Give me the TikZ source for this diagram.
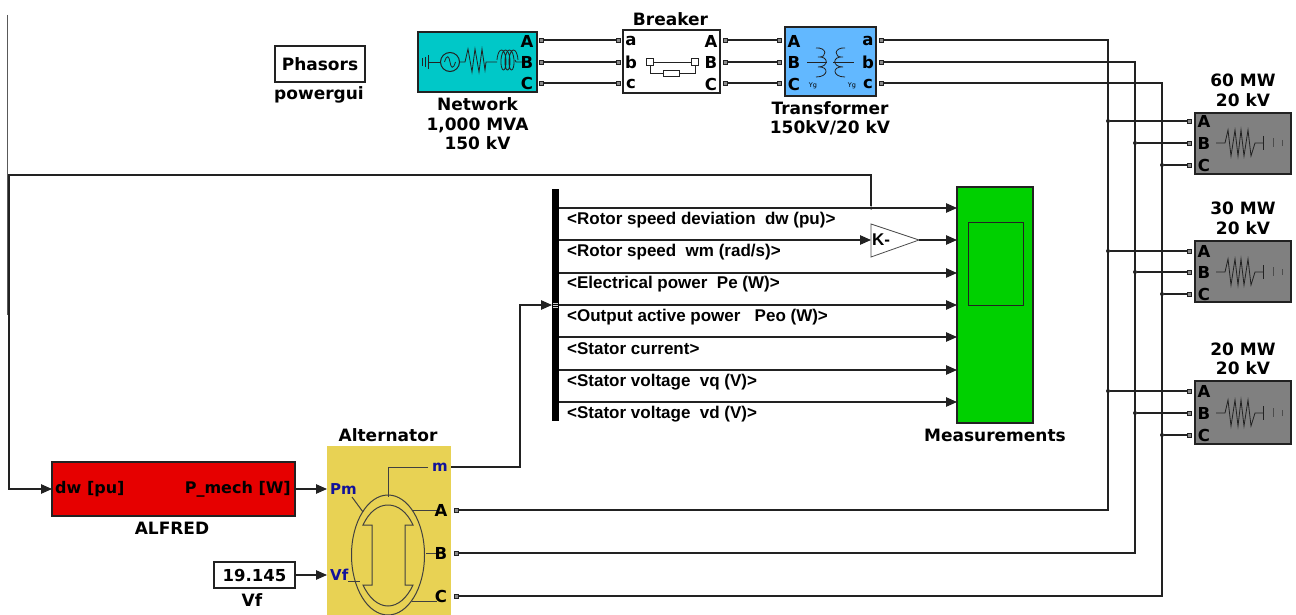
\documentclass[tikz,border=0pt]{standalone}
\usepackage{fontspec}
\setmainfont{DejaVu Sans}
\newfontfamily\sigfont{Liberation Sans}
\usetikzlibrary{arrows.meta}
\definecolor{wirec}{HTML}{222222}
\definecolor{netc}{HTML}{00C8C8}
\definecolor{trc}{HTML}{62B8FF}
\definecolor{loadc}{HTML}{808080}
\definecolor{redc}{HTML}{E60000}
\definecolor{greenc}{HTML}{00D000}
\definecolor{yelc}{HTML}{E8D254}
\definecolor{bluec}{HTML}{12129A}
\tikzset{
  wire/.style={draw=wirec,line width=1.1pt},
  sigwire/.style={wire,-{Triangle[length=11pt,width=9.5pt]}},
  block/.style={draw=wirec,line width=1.1pt,inner sep=0pt,outer sep=0pt},
  portsq/.style={draw=wirec,fill=black!45,line width=0.8pt,inner sep=0pt,outer sep=0pt,minimum size=4pt},
  jdot/.style={circle,fill=wirec,inner sep=0pt,minimum size=4pt},
  title/.style={font=\fontsize{17}{19.5}\selectfont\bfseries,align=center,inner sep=0pt,text=black},
  letter/.style={font=\fontsize{16.5}{19}\selectfont\bfseries,inner sep=0pt,text=black},
  bluelet/.style={font=\fontsize{15}{18}\selectfont\bfseries,inner sep=0pt,text=bluec},
  siglabel/.style={font=\fontsize{17}{20}\selectfont\sigfont\bfseries,anchor=west,inner sep=0pt,text=black},
  icon/.style={draw=wirec,line width=0.8pt},
  altline/.style={draw=black!75,line width=1pt},
  loadicon/.pic={
    \draw[icon] (0,0) -- (9,0) -- (12,-13) -- (15,13) -- (19,-13) -- (22,13) -- (25,-13) -- (28,13) -- (32,-13) -- (35,13) -- (39,0) -- (47,0);
    \draw[icon,line width=1pt] (47,-7) -- (47,7);
    \draw[icon,draw=black!70,line width=1pt] (57,-5) -- (57,4);
    \draw[icon,draw=black!70,line width=1pt] (66,-3) -- (66,3);
  }
}
\begin{document}
\begin{tikzpicture}[x=1pt,y=-1pt]
\useasboundingbox (0,0) rectangle (1296,615);

% stray line at the left
\coordinate (stTop) at (7,15);
\coordinate (stBot) at (7,315);
\draw[draw=black!65,line width=0.8pt] (stTop) -- (stBot);

% powergui
\node[block,fill=white,minimum width=90pt,minimum height=36pt,font=\fontsize{17}{19}\selectfont\bfseries] (pg) at (320,64) {Phasors};
\node[title] (pgL) at (319,95) {powergui};

% Network
\node[block,fill=netc,minimum width=119pt,minimum height=60pt] (net) at (477.5,62) {};
\draw[icon] (422,58) -- (422,66) (425,57) -- (425,67) (428,55) -- (428,69) (428,62) -- (440.5,62);
\draw[icon,line width=1pt] (450,62) circle (9.5);
\draw[icon] (444.5,62) .. controls (447,54) and (449,56) .. (450,62) .. controls (451,68) and (453,70) .. (455.5,62);
\draw[icon] (459.5,62) -- (465,62) -- (468,49) -- (472,72) -- (475,49) -- (479,72) -- (482,49) -- (485,70) -- (486,62) -- (497,62);
\draw[icon] plot[smooth,samples=70,domain=0:1260] ({500.5+\x/1260*14-3.5*cos(\x)},{60-10*sin(\x)});
\draw[icon] (515,60) -- (516,62) -- (522,62);
\node[title] (netL) at (477.5,124) {Network\\1,000 MVA\\150 kV};
\node[letter] (netLa) at (527,41) {A};
\node[letter] (netLb) at (527,62) {B};
\node[letter] (netLc) at (527,83) {C};
\node[portsq] (netA) at (541,40) {};
\node[portsq] (netB) at (541,62) {};
\node[portsq] (netC) at (541,83) {};

% Breaker
\node[block,fill=white,minimum width=97pt,minimum height=63pt] (brk) at (671.5,61.5) {};
\node[title] (brkL) at (670.5,19) {Breaker};
\node[letter] (bLa) at (631,41) {a};
\node[letter] (bLb) at (631,62) {b};
\node[letter] (bLc) at (631,84) {c};
\node[letter] (bLA) at (711,41) {A};
\node[letter] (bLB) at (711,62) {B};
\node[letter] (bLC) at (711,84) {C};
\node[portsq] (brka) at (618,40) {};
\node[portsq] (brkb) at (618,62) {};
\node[portsq] (brkc) at (618,83) {};
\node[portsq] (brkA) at (725,40) {};
\node[portsq] (brkB) at (725,62) {};
\node[portsq] (brkC) at (725,83) {};
\node[draw=wirec,line width=0.8pt,fill=white,minimum size=7pt,inner sep=0pt] (sw1) at (650,62) {};
\node[draw=wirec,line width=0.8pt,fill=white,minimum size=7pt,inner sep=0pt] (sw2) at (695,62) {};
\node[draw=wirec,line width=0.8pt,fill=white,minimum width=16pt,minimum height=6pt,inner sep=0pt] (sw3) at (671.5,73.5) {};
\draw[icon] (sw1) -- (sw2);
\draw[icon] (sw1.south) -- (sw1.south |- sw3) -- (sw3.west);
\draw[icon] (sw2.south) -- (sw2.south |- sw3) -- (sw3.east);

% Transformer
\node[block,fill=trc,minimum width=91pt,minimum height=69pt] (tr) at (830.5,61.5) {};
\node[title] (trL) at (830,118.5) {Transformer\\150kV/20 kV};
\node[letter] (tLA) at (794,41) {A};
\node[letter] (tLB) at (794,62) {B};
\node[letter] (tLC) at (794,84) {C};
\node[letter] (tLa) at (868,41) {a};
\node[letter] (tLb) at (868,62) {b};
\node[letter] (tLc) at (868,84) {c};
\node[font=\fontsize{6.5}{8}\selectfont,inner sep=0pt] (yg1) at (813,86) {Yg};
\node[font=\fontsize{6.5}{8}\selectfont,inner sep=0pt] (yg2) at (852,86) {Yg};
\draw[icon] (807,62) -- (827,62) (833,62) -- (854,62);
\draw[icon] (816,48) .. controls (827,47) and (828,58) .. (818,57) .. controls (829,56) and (829,67) .. (818,67) .. controls (829,66) and (829,77) .. (816,77);
\draw[icon] (845,48) .. controls (834,47) and (833,58) .. (843,57) .. controls (832,56) and (832,67) .. (843,67) .. controls (832,66) and (832,77) .. (845,77);
\node[portsq] (trA) at (779,40) {};
\node[portsq] (trB) at (779,62) {};
\node[portsq] (trC) at (779,83) {};
\node[portsq] (tra) at (881,40) {};
\node[portsq] (trb) at (881,62) {};
\node[portsq] (trc) at (881,83) {};

\draw[wire] (netA) -- (brka) (netB) -- (brkb) (netC) -- (brkc);
\draw[wire] (brkA) -- (trA) (brkB) -- (trB) (brkC) -- (trC);

% Loads
\node[block,fill=loadc,minimum width=96pt,minimum height=61pt] (l1) at (1243,143.5) {};
\node[block,fill=loadc,minimum width=96pt,minimum height=61pt] (l2) at (1243,271.5) {};
\node[block,fill=loadc,minimum width=96pt,minimum height=63pt] (l3) at (1243,412.5) {};
\node[title] (l1T) at (1243,90.5) {60 MW\\20 kV};
\node[title] (l2T) at (1243,218.5) {30 MW\\20 kV};
\node[title] (l3T) at (1243,359) {20 MW\\20 kV};
\pic at (1216,143) {loadicon};
\pic at (1216,272) {loadicon};
\pic at (1216,413) {loadicon};
\node[letter] (l1a) at (1204,121) {A};
\node[letter] (l1b) at (1204,143) {B};
\node[letter] (l1c) at (1204,165) {C};
\node[letter] (l2a) at (1204,251) {A};
\node[letter] (l2b) at (1204,272) {B};
\node[letter] (l2c) at (1204,294) {C};
\node[letter] (l3a) at (1204,391) {A};
\node[letter] (l3b) at (1204,413) {B};
\node[letter] (l3c) at (1204,435) {C};
\node[portsq] (l1A) at (1189,121) {};
\node[portsq] (l1B) at (1189,143) {};
\node[portsq] (l1C) at (1189,165) {};
\node[portsq] (l2A) at (1189,251) {};
\node[portsq] (l2B) at (1189,272) {};
\node[portsq] (l2C) at (1189,294) {};
\node[portsq] (l3A) at (1189,391) {};
\node[portsq] (l3B) at (1189,413) {};
\node[portsq] (l3C) at (1189,435) {};

% Alternator
\node[inner sep=0pt,outer sep=0pt,fill=yelc,minimum width=124pt,minimum height=169pt] (alt) at (389,530.5) {};
\node[title] (altL) at (388,435) {Alternator};
\draw[altline] (388,555) ellipse (36.5 and 60);
\draw[altline] (372,525) -- (363,525) .. controls (369,512) and (378,505) .. (388,505) .. controls (398,505) and (407,512) .. (413,525) -- (405,525) -- (405,585) -- (413,585) .. controls (407,598) and (398,606) .. (388,606) .. controls (378,606) and (369,598) .. (363,585) -- (372,585) -- cycle;
\draw[altline] (428,467) -- (388,467) -- (388,497);
\draw[altline] (352,497) -- (363,512);
\draw[altline] (348,581) -- (360,581);
\draw[altline] (412,510) -- (437,510);
\draw[altline] (426,553) -- (437,553);
\draw[altline] (412,601) -- (437,601);
\node[bluelet,anchor=west] (aPm) at (330,489) {Pm};
\node[bluelet,anchor=west] (aVf) at (330,575) {Vf};
\node[bluelet,anchor=east] (am) at (448,467) {m};
\node[letter] (aLA) at (441,510) {A};
\node[letter] (aLB) at (441,553) {B};
\node[letter] (aLC) at (441,596) {C};
\node[portsq] (altA) at (456,510) {};
\node[portsq] (altB) at (456,553) {};
\node[portsq] (altC) at (456,596) {};

% ALFRED and Vf
\node[block,fill=redc,minimum width=243pt,minimum height=54pt] (alf) at (173.5,489) {};
\node[font=\fontsize{16}{19}\selectfont\bfseries,inner sep=0pt,anchor=west] (alfIn) at (55,489) {dw [pu]};
\node[font=\fontsize{16}{19}\selectfont\bfseries,inner sep=0pt,anchor=east] (alfOut) at (291,489) {P\_mech [W]};
\node[title] (alfL) at (172,528) {ALFRED};
\node[block,fill=white,minimum width=81pt,minimum height=26pt,font=\fontsize{16.5}{19}\selectfont\bfseries] (vf) at (254.5,575) {19.145};
\node[title] (vfL) at (252,600) {Vf};
\draw[sigwire] (alf.east) -- (alt.west |- alf.east);
\draw[sigwire] (vf.east) -- (alt.west |- vf.east);

% Three-phase buses
\coordinate (busA) at (1108,510);
\coordinate (busB) at (1135,553);
\coordinate (busC) at (1162,596);
\draw[wire] (tra) -| (busA) -- (altA);
\draw[wire] (trb) -| (busB) -- (altB);
\draw[wire] (trc) -| (busC) -- (altC);
\foreach \n/\bx/\y/\p in {a1/1108/121/l1A,b1/1135/143/l1B,c1/1162/165/l1C,a2/1108/251/l2A,b2/1135/272/l2B,c2/1162/294/l2C,a3/1108/391/l3A,b3/1135/413/l3B,c3/1162/435/l3C}{
  \node[jdot] (\n) at (\bx,\y) {};
  \draw[wire] (\n) -- (\p);
}

% Bus selector and measurements
\node[fill=black,inner sep=0pt,outer sep=0pt,minimum width=7pt,minimum height=232pt] (bus) at (555.5,305) {};
\draw[draw=white!80!black,line width=0.5pt] (553,303) -- (558,303) (553,305) -- (558,305) (553,307) -- (558,307);
\node[block,fill=greenc,minimum width=76pt,minimum height=236pt] (meas) at (995,305) {};
\node[draw=wirec,line width=0.9pt,minimum width=55pt,minimum height=83pt,inner sep=0pt] (measIn) at (995.5,263.5) {};
\node[title] (measL) at (995,435) {Measurements};
\foreach \i/\y in {1/208,2/240,3/273,4/305,5/337,6/370,7/402}{
  \coordinate (mi\i) at (957,\y);
}
\foreach \i in {1,3,4,5,6,7}{
  \draw[sigwire] (bus.east |- mi\i) -- (mi\i);
}
\node[siglabel] (s1) at (567,220) {<Rotor speed deviation\ \ dw (pu)>};
\node[siglabel] (s2) at (567,252) {<Rotor speed\ \ wm (rad/s)>};
\node[siglabel] (s3) at (567,284.5) {<Electrical power\ \ Pe (W)>};
\node[siglabel] (s4) at (567,317) {<Output active power\ \ \ Peo (W)>};
\node[siglabel] (s5) at (567,349) {<Stator current>};
\node[siglabel] (s6) at (567,382) {<Stator voltage\ \ vq (V)>};
\node[siglabel] (s7) at (567,414) {<Stator voltage\ \ vd (V)>};

% Gain
\coordinate (gIn) at (871,240);
\coordinate (gOut) at (919,240);
\draw[draw=black!70,line width=0.8pt,fill=white] (871,224) -- (gOut) -- (871,257) -- cycle;
\node[font=\fontsize{17}{19}\selectfont\sigfont\bfseries,anchor=west,inner sep=0pt] (gain) at (872,240) {K-};
\draw[sigwire] (bus.east |- gIn) -- (gIn);
\draw[sigwire] (gOut) -- (mi2);

% Feedback and alternator output
\node[jdot,minimum size=3.5pt] (fbJ) at (871,208) {};
\coordinate (fb1) at (871,175);
\coordinate (fb2) at (9,175);
\coordinate (fb3) at (9,489);
\draw[sigwire] (fbJ) -- (fb1) -- (fb2) -- (fb3) -- (alf.west);
\coordinate (mo) at (451,467);
\coordinate (mo1) at (520,467);
\coordinate (mo2) at (520,305);
\draw[sigwire] (mo) -- (mo1) -- (mo2) -- (bus.west);
\end{tikzpicture}
\end{document}
